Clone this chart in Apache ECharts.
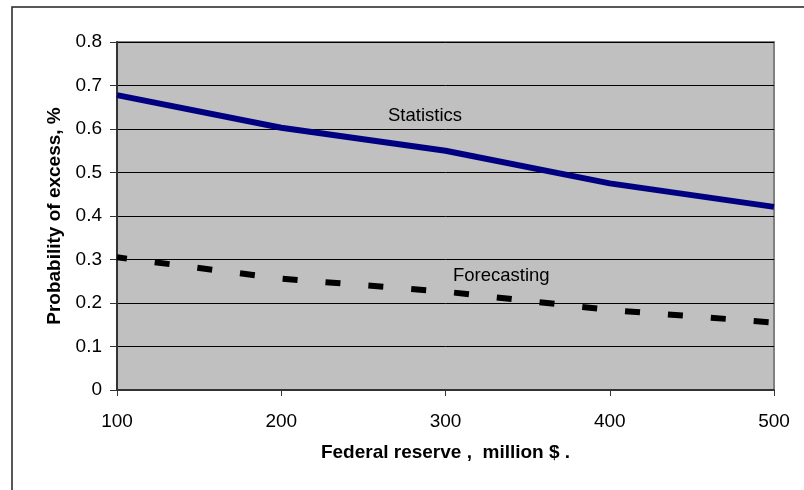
<!DOCTYPE html>
<html>
<head>
<meta charset="utf-8">
<script src="https://cdn.jsdelivr.net/npm/echarts@6/dist/echarts.min.js"></script>
<style>
  html, body { margin: 0; padding: 0; background: #fff; }
  #chart { width: 804px; height: 490px; }
</style>
</head>
<body>
<div id="chart"></div>
<script>
// Federal reserve size (million $) on the x axis
const reserves = [100, 200, 300, 400, 500];
// Probability of excess from historical statistics
const statistics = [0.678, 0.603, 0.55, 0.475, 0.421];
// Probability of excess with forecasting
const forecasting = [0.305, 0.256, 0.226, 0.184, 0.155];

const yTicks = [0, 0.1, 0.2, 0.3, 0.4, 0.5, 0.6, 0.7, 0.8];

const chart = echarts.init(document.getElementById('chart'));
const font = 'Arial, "Liberation Sans", sans-serif';

chart.setOption({
  animation: false,
  textStyle: { fontFamily: font },
  grid: {
    left: 117, right: 30, top: 42, bottom: 100,
    show: true,
    backgroundColor: '#c0c0c0',
    borderColor: '#808080',
    borderWidth: 2
  },
  xAxis: {
    type: 'value',
    min: reserves[0],
    max: reserves[reserves.length - 1],
    interval: 100,
    name: 'Federal reserve ,  million $ .',
    nameLocation: 'middle',
    nameGap: 53,
    nameTextStyle: { fontSize: 19, fontWeight: 'bold', color: '#000', fontFamily: font },
    axisLine: { lineStyle: { color: '#333', width: 2 } },
    axisTick: { show: true, inside: false, length: 6, lineStyle: { color: '#333', width: 1 } },
    axisLabel: { fontSize: 19, color: '#000', margin: 22, fontFamily: font },
    splitLine: { show: false }
  },
  yAxis: {
    type: 'value',
    min: yTicks[0],
    max: yTicks[yTicks.length - 1],
    interval: 0.1,
    name: 'Probability of excess, %',
    nameLocation: 'middle',
    nameGap: 52,
    nameTextStyle: { fontSize: 19, fontWeight: 'bold', color: '#000', fontFamily: font },
    axisLine: { show: true, lineStyle: { color: '#333', width: 2 } },
    axisTick: { show: true, inside: false, length: 7, lineStyle: { color: '#333', width: 1 } },
    axisLabel: {
      fontSize: 19, color: '#000', margin: 15, fontFamily: font,
      formatter: v => (Math.round(v * 10) / 10).toString()
    },
    splitLine: { show: true, lineStyle: { color: '#000', width: 1 } }
  },
  series: [
    {
      name: 'Statistics',
      type: 'line',
      data: reserves.map((x, i) => [x, statistics[i]]),
      symbol: 'none',
      lineStyle: { color: '#000080', width: 6 }
    },
    {
      name: 'Forecasting',
      type: 'line',
      data: reserves.map((x, i) => [x, forecasting[i]]),
      symbol: 'none',
      lineStyle: { color: '#000', width: 6, type: [15, 28], dashOffset: 5, cap: 'butt' }
    }
  ],
  graphic: [
    {
      type: 'rect',
      silent: true,
      shape: { x: 12, y: 7, width: 900, height: 600 },
      style: { fill: 'none', stroke: '#222', lineWidth: 1.5 },
      z: -10
    },
    {
      type: 'text',
      left: 388, top: 106,
      style: { text: 'Statistics', font: '18.5px ' + font, fill: '#000' }
    },
    {
      type: 'text',
      left: 453, top: 266,
      style: { text: 'Forecasting', font: '18.5px ' + font, fill: '#000' }
    }
  ]
});
</script>
</body>
</html>
